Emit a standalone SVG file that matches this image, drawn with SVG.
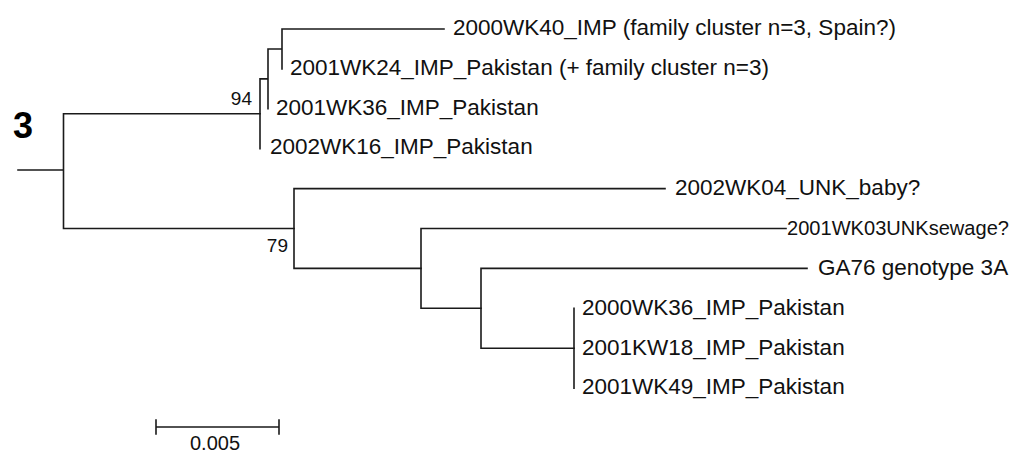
<svg xmlns="http://www.w3.org/2000/svg" width="1020" height="452" viewBox="0 0 1020 452">
<style>
.br{fill:none;stroke:#1a1a1a;stroke-width:1.6;stroke-linecap:square}
.lb{font-family:"Liberation Sans",Arial,sans-serif;font-size:22.5px;fill:#111}
.cd{font-family:"Liberation Sans",Arial,sans-serif;font-size:20.5px;fill:#111}
.bs{font-family:"Liberation Sans",Arial,sans-serif;font-size:19px;fill:#111}
.sc{font-family:"Liberation Sans",Arial,sans-serif;font-size:20px;fill:#111}
.cl{font-family:"Liberation Sans",Arial,sans-serif;font-size:36px;font-weight:bold;fill:#000}
</style>
<rect width="1020" height="452" fill="#fff"/>
<g id="connectors">
<path class="br" d="M18,170 H63.5 M63.5,113.8 V228.5 M63.5,113.8 H260 M63.5,228.5 H294"/>
<path class="br" d="M260,78.9 V148.7 M260,78.9 H268 M268,49 V108.8 M268,49 H282 M282,29 V68.9 M282,29 H444"/>
<path class="br" d="M294,188.6 V268.4 M294,188.6 H665 M294,268.4 H421"/>
<path class="br" d="M421,228.5 V308.3 M421,228.5 H786 M421,308.3 H481"/>
<path class="br" d="M481,268.4 V348.2 M481,268.4 H807 M481,348.2 H574"/>
<path class="br" d="M574,308.3 V388.1"/>
</g>
<g id="cluster-label"><text class="cl" x="13" y="138">3</text></g>
<g id="bootstrap-94"><text class="bs" x="252" y="105" text-anchor="end">94</text></g>
<g id="bootstrap-79"><text class="bs" x="288" y="252" text-anchor="end">79</text></g>
<g id="leaf-2000WK40"><text class="lb" x="453" y="35">2000WK40_IMP (family cluster n=3, Spain?)</text></g>
<g id="leaf-2001WK24"><text class="lb" x="290" y="74.5">2001WK24_IMP_Pakistan (+ family cluster n=3)</text></g>
<g id="leaf-2001WK36"><text class="lb" x="276" y="114.5">2001WK36_IMP_Pakistan</text></g>
<g id="leaf-2002WK16"><text class="lb" x="270" y="154">2002WK16_IMP_Pakistan</text></g>
<g id="leaf-2002WK04"><text class="lb" x="675" y="194.5">2002WK04_UNK_baby?</text></g>
<g id="leaf-2001WK03"><text class="cd" x="787" y="234.5" textLength="222" lengthAdjust="spacingAndGlyphs">2001WK03UNKsewage?</text></g>
<g id="leaf-GA76"><text class="lb" x="818" y="274.5">GA76 genotype 3A</text></g>
<g id="leaf-2000WK36"><text class="lb" x="582" y="314.5">2000WK36_IMP_Pakistan</text></g>
<g id="leaf-2001KW18"><text class="lb" x="582" y="354.5">2001KW18_IMP_Pakistan</text></g>
<g id="leaf-2001WK49"><text class="lb" x="582" y="394">2001WK49_IMP_Pakistan</text></g>
<g id="scale-bar">
<path class="br" d="M156,427 H279 M156,420 V434 M279,420 V434"/>
<text class="sc" x="215" y="450" text-anchor="middle">0.005</text>
</g>
</svg>
